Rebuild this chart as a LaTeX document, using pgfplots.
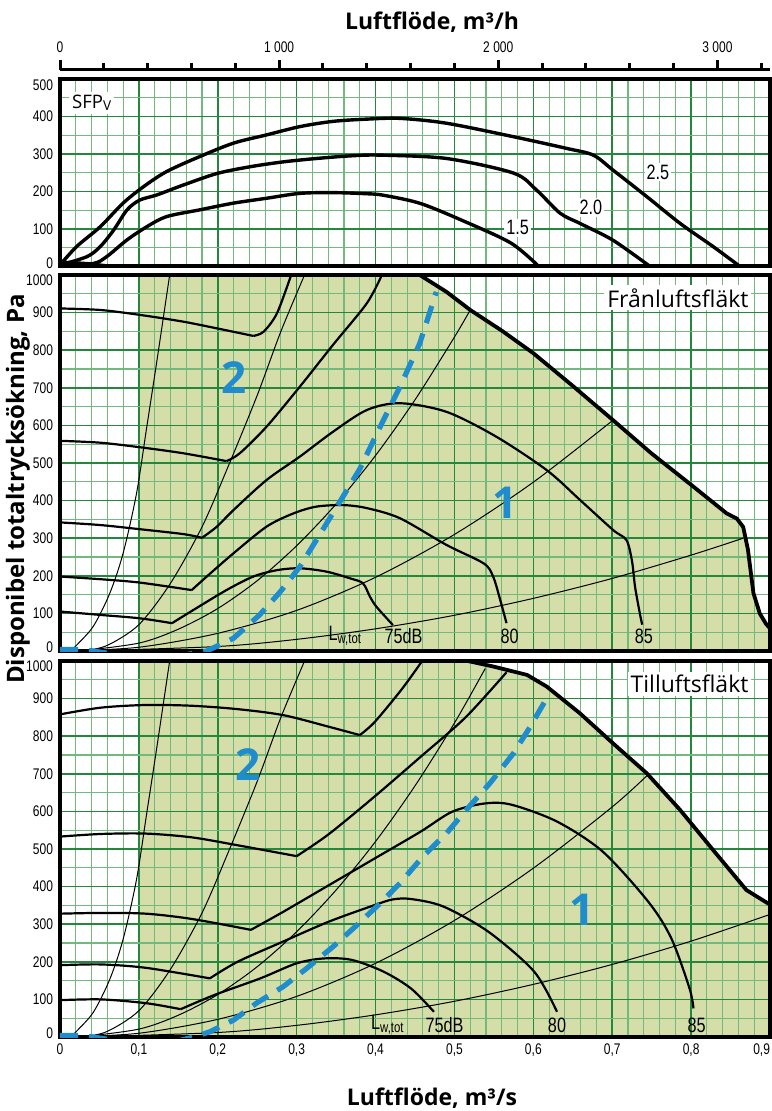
\documentclass[border=0pt]{standalone}
\usepackage{pgfplots}
\pgfplotsset{compat=1.18}
\usepackage{fontspec}
\setmainfont{Open Sans}
\newfontfamily\tickf[FakeStretch=0.78]{Liberation Sans}
\newcommand\tickfont{\tickf\fontsize{7.7}{8}\selectfont}
\newcommand\curvefont{\tickf\fontsize{10.4}{11}\selectfont}

\definecolor{gmaj}{RGB}{35,135,60}
\definecolor{gmin}{RGB}{115,185,125}
\definecolor{fillg}{RGB}{213,222,168}
\definecolor{blu}{RGB}{30,140,205}

\pgfplotsset{
  geom/.style={scale only axis, width=355pt, xmin=0, xmax=0.9, ymin=0},
  panel/.style={
    geom,
    xtick={0,0.1,0.2,0.3,0.4,0.5,0.6,0.7,0.8,0.9},
    minor x tick num=4, minor y tick num=1,
    grid=both,
    major grid style={draw=gmaj, line width=0.8pt},
    minor grid style={draw=gmin, line width=0.55pt},
    major tick length=0pt, minor tick length=0pt,
    axis line style={line width=2pt},
    xticklabels={},
    ticklabel style={font=\tickfont},
  },
  kpa/.style={ytick={0,100,200,300,400,500,600,700,800,900,1000},
    yticklabels={\raisebox{2pt}[5.6pt][0pt]{0},100,200,300,400,500,600,700,800,900,\raisebox{-2.5pt}[5.6pt][0pt]{1000}}},
  fan/.style={black, line width=1.1pt, smooth, tension=0.5},
  thin/.style={black, line width=0.5pt, smooth, tension=0.5},
  env/.style={black, line width=1.9pt, line join=round},
  sfp/.style={black, line width=1.7pt, smooth, tension=0.5},
  bdash/.style={blu, line width=2.6pt, dash pattern=on 9pt off 5.5pt},
}

\begin{document}
\begin{tikzpicture}

% luftflöde m3/h (top scale)
\begin{axis}[at={(30pt,-35pt)}, anchor=north west, scale only axis,
  width=355pt, height=10pt, xmin=0, xmax=3240, ymin=0, ymax=1,
  axis x line*=top, hide y axis,
  axis line style={line width=1.5pt},
  tick align=outside, major tick length=3.5pt,
  x tick style={line width=1.5pt, black},
  xtick={200,400,600,800,1200,1400,1600,1800,2200,2400,2600,2800,3200},
  xticklabels={},
  extra x ticks={0,1000,2000,3000},
  extra x tick labels={0,{1 000},{2 000},{3 000}},
  extra x tick style={major tick length=5pt},
  ticklabel style={font=\tickfont},
]
\addplot[draw=none] coordinates {(0,0) (3240,1)};
\end{axis}

% SFPv panel
\begin{axis}[panel, at={(30pt,-133.25pt)}, height=93.75pt, ymax=500,
  ytick={0,100,200,300,400,500},
  yticklabels={\raisebox{2pt}[5.6pt][0pt]{0},100,200,300,400,\raisebox{-3pt}[5.6pt][0pt]{500}}]
\addplot[sfp] coordinates {(0,4) (0.021,53) (0.051,106) (0.080,169) (0.106,213) (0.135,253) (0.177,293) (0.220,329) (0.262,351) (0.304,373) (0.346,387) (0.389,393) (0.431,395) (0.49,382) (0.575,346) (0.642,315) (0.676,297) (0.701,257) (0.744,186) (0.786,115) (0.828,53) (0.862,0)};
\addplot[sfp] coordinates {(0,4) (0.034,26) (0.051,53) (0.068,97) (0.085,151) (0.101,177) (0.123,191) (0.156,217) (0.199,248) (0.241,266) (0.283,279) (0.325,288) (0.368,295) (0.406,297) (0.49,288) (0.575,249) (0.604,204) (0.634,142) (0.659,115) (0.701,70) (0.748,0)};
\addplot[sfp] coordinates {(0,4) (0.042,8) (0.059,26) (0.085,71) (0.110,106) (0.135,133) (0.177,151) (0.220,169) (0.262,182) (0.304,195) (0.346,197) (0.389,194) (0.410,190) (0.457,168) (0.514,119) (0.572,62) (0.607,0)};
\addplot[sfp, line width=1.2pt] coordinates {(0,13) (0.034,9) (0.063,2) (0.072,0)};
\node[anchor=west, fill=white, inner sep=1.5pt, font=\fontsize{9.3}{10}\selectfont] at (axis cs:0.011,436) {SFP\raisebox{-1.2pt}{\fontsize{6.8}{7}\selectfont V}};
\node[fill=white, inner sep=1pt, font=\curvefont] at (axis cs:0.580,103) {1.5};
\node[fill=white, inner sep=1pt, font=\curvefont] at (axis cs:0.673,158) {2.0};
\node[fill=white, inner sep=1pt, font=\curvefont] at (axis cs:0.758,252) {2.5};
\end{axis}

% Frånluftsfläkt: shaded area underneath
\begin{axis}[geom, at={(30pt,-325.5pt)}, height=188pt, ymax=1000, hide axis]
\addplot[fill=fillg, draw=none] coordinates {(0.1,0) (0.1,1000) (0.456,1000) (0.49,955) (0.52,907) (0.56,852) (0.6,792) (0.65,705) (0.701,614) (0.75,525) (0.803,437) (0.845,366) (0.858,352) (0.866,330) (0.872,270) (0.879,154) (0.887,100) (0.895,72) (0.9,60) (0.9,0)} \closedcycle;
\end{axis}
\begin{axis}[panel, kpa, at={(30pt,-325.5pt)}, height=188pt, ymax=1000]
% system lines
\addplot[thin] coordinates {(0.015,0) (0.019,11) (0.042,65) (0.063,153) (0.080,260) (0.097,419) (0.110,596) (0.123,774) (0.139,1000)};
\addplot[thin] coordinates {(0.03,0) (0.06,15) (0.1,70) (0.14,180) (0.18,330) (0.213,490) (0.25,680) (0.28,850) (0.31,1000)};
\addplot[thin] coordinates {(0.025,0) (0.1,21) (0.15,58) (0.2,113) (0.25,187) (0.3,280) (0.35,391) (0.4,520) (0.45,668) (0.5,835) (0.52,907)};
\addplot[thin] coordinates {(0.01,0) (0.1,10) (0.2,47) (0.3,108) (0.4,196) (0.5,310) (0.6,449) (0.701,614)};
\addplot[thin] coordinates {(0.03,0) (0.2,12) (0.3,31) (0.4,59) (0.5,95) (0.6,140) (0.7,193) (0.8,255) (0.866,300)};
% fan curves
\addplot[fan] coordinates {(0,911) (0.051,907) (0.101,894) (0.156,876) (0.199,858) (0.245,838)};
\addplot[fan] coordinates {(0.245,838) (0.258,849) (0.275,898) (0.293,1000)};
\addplot[fan] coordinates {(0,559) (0.051,554) (0.101,542) (0.156,526) (0.211,505)};
\addplot[fan] coordinates {(0.211,505) (0.228,526) (0.262,597) (0.304,703) (0.346,814) (0.389,925) (0.408,1000)};
\addplot[fan] coordinates {(0,342) (0.051,335) (0.101,324) (0.156,311) (0.180,301)};
\addplot[fan] coordinates {(0.180,301) (0.199,331) (0.220,375) (0.262,455) (0.304,517) (0.346,583) (0.389,641) (0.431,659) (0.490,636) (0.553,570) (0.617,481) (0.659,402) (0.701,322) (0.718,295) (0.725,240) (0.729,170) (0.735,100) (0.738,70)};
\addplot[fan] coordinates {(0,198) (0.051,191) (0.101,182) (0.167,162)};
\addplot[fan] coordinates {(0.167,162) (0.186,198) (0.220,260) (0.262,331) (0.296,366) (0.325,384) (0.359,388) (0.389,380) (0.431,353) (0.490,282) (0.537,233) (0.549,198) (0.558,136) (0.566,74)};
\addplot[fan] coordinates {(0,105) (0.051,96) (0.101,87) (0.142,74)};
\addplot[fan] coordinates {(0.142,74) (0.169,109) (0.211,162) (0.245,198) (0.275,215) (0.304,220) (0.338,211) (0.368,193) (0.384,180) (0.393,144) (0.401,118) (0.422,69)};
% envelope
\addplot[env] coordinates {(0.456,1000) (0.49,955) (0.52,907) (0.56,852) (0.6,792) (0.65,705) (0.701,614) (0.75,525) (0.803,437) (0.845,366) (0.858,352) (0.866,330) (0.872,270) (0.879,154) (0.887,100) (0.895,72) (0.9,60)};
% boundary 1/2
\addplot[bdash] coordinates {(0,4) (0.03,4) (0.06,-6) (0.12,-25) (0.186,0) (0.22,34) (0.253,96) (0.279,157) (0.304,224) (0.325,295) (0.351,384) (0.38,484) (0.406,597) (0.431,703) (0.456,818) (0.477,955)};
\node[anchor=east, fill=white, inner sep=1.5pt, font=\fontsize{11.5}{12}\selectfont] at (axis cs:0.877,939) {Frånluftsfläkt};
\node[text=blu, font=\bfseries\fontsize{22}{24}\selectfont] at (axis cs:0.221,727) {2};
\node[text=blu, font=\bfseries\fontsize{22}{24}\selectfont] at (axis cs:0.564,395) {1};
\node[anchor=west, inner sep=0pt, font=\curvefont] at (axis cs:0.340,40) {L\textsubscript{w,tot}};
\node[anchor=west, inner sep=0pt, font=\curvefont] at (axis cs:0.411,40) {75dB};
\node[inner sep=0pt, font=\curvefont] at (axis cs:0.570,40) {80};
\node[inner sep=0pt, font=\curvefont] at (axis cs:0.740,40) {85};
\end{axis}

% Tilluftsfläkt: shaded area underneath
\begin{axis}[geom, at={(30pt,-518.5pt)}, height=188pt, ymax=1000, hide axis]
\addplot[fill=fillg, draw=none] coordinates {(0.1,0) (0.1,1000) (0.517,1000) (0.55,985) (0.592,963) (0.617,932) (0.659,861) (0.701,781) (0.744,701) (0.786,604) (0.828,497) (0.870,391) (0.9,352) (0.9,0)} \closedcycle;
\end{axis}
\begin{axis}[panel, kpa, at={(30pt,-518.5pt)}, height=188pt, ymax=1000,
  xticklabels={0,{0,1},{0,2},{0,3},{0,4},{0,5},{0,6},{0,7},{0,8},{\makebox[0pt][r]{0,9}}}]
\addplot[thin] coordinates {(0.015,0) (0.019,11) (0.042,65) (0.063,153) (0.080,260) (0.097,419) (0.110,596) (0.123,774) (0.139,1000)};
\addplot[thin] coordinates {(0.03,0) (0.06,15) (0.1,70) (0.14,180) (0.18,330) (0.213,490) (0.25,680) (0.28,850) (0.31,1000)};
\addplot[thin] coordinates {(0.025,0) (0.1,21) (0.15,58) (0.2,113) (0.25,187) (0.3,280) (0.35,391) (0.4,520) (0.45,668) (0.5,835) (0.539,980)};
\addplot[thin] coordinates {(0.01,0) (0.1,10) (0.2,47) (0.3,108) (0.4,196) (0.5,310) (0.6,449) (0.7,612) (0.746,699)};
\addplot[thin] coordinates {(0.03,0) (0.2,12) (0.3,31) (0.4,59) (0.5,95) (0.6,140) (0.7,193) (0.8,255) (0.9,326)};
\addplot[fan] coordinates {(0,858) (0.052,876) (0.109,883) (0.167,881) (0.225,872) (0.283,856) (0.341,825) (0.380,803)};
\addplot[fan] coordinates {(0.380,803) (0.399,838) (0.434,927) (0.459,1000)};
\addplot[fan] coordinates {(0,533) (0.052,540) (0.109,541) (0.167,531) (0.225,510) (0.300,481)};
\addplot[fan] coordinates {(0.300,481) (0.341,540) (0.399,640) (0.457,745) (0.514,850) (0.566,970)};
\addplot[fan] coordinates {(0,328) (0.052,330) (0.109,328) (0.167,314) (0.242,285)};
\addplot[fan] coordinates {(0.242,285) (0.283,333) (0.341,404) (0.399,475) (0.457,546) (0.497,599) (0.538,621) (0.572,618) (0.630,573) (0.688,493) (0.746,359) (0.775,262) (0.798,129) (0.803,76)};
\addplot[fan] coordinates {(0,191) (0.052,193) (0.109,184) (0.190,156)};
\addplot[fan] coordinates {(0.190,156) (0.225,200) (0.283,254) (0.341,307) (0.399,351) (0.422,366) (0.445,367) (0.486,347) (0.543,280) (0.601,174) (0.630,67)};
\addplot[fan] coordinates {(0,98) (0.052,100) (0.109,90) (0.153,74)};
\addplot[fan] coordinates {(0.153,74) (0.196,112) (0.254,156) (0.300,196) (0.335,209) (0.370,205) (0.410,174) (0.445,129) (0.474,67)};
\addplot[env] coordinates {(0.517,1000) (0.55,985) (0.592,963) (0.617,932) (0.659,861) (0.701,781) (0.744,701) (0.786,604) (0.828,497) (0.870,391) (0.9,352)};
\addplot[bdash] coordinates {(0,4) (0.03,4) (0.06,-6) (0.12,-25) (0.17,0) (0.19,14) (0.22,45) (0.249,90) (0.283,134) (0.313,183) (0.346,240) (0.375,295) (0.406,356) (0.431,409) (0.46,480) (0.49,542) (0.515,604) (0.545,675) (0.575,755) (0.596,825) (0.62,912)};
\node[anchor=east, fill=white, inner sep=1.5pt, font=\fontsize{11.5}{12}\selectfont] at (axis cs:0.877,939) {Tilluftsfläkt};
\node[text=blu, font=\bfseries\fontsize{22}{24}\selectfont] at (axis cs:0.238,725) {2};
\node[text=blu, font=\bfseries\fontsize{22}{24}\selectfont] at (axis cs:0.662,338) {1};
\node[anchor=west, inner sep=0pt, font=\curvefont] at (axis cs:0.394,32) {L\textsubscript{w,tot}};
\node[anchor=west, inner sep=0pt, font=\curvefont] at (axis cs:0.463,32) {75dB};
\node[inner sep=0pt, font=\curvefont] at (axis cs:0.630,32) {80};
\node[inner sep=0pt, font=\curvefont] at (axis cs:0.807,32) {85};
\end{axis}

\node[rotate=90, font=\bfseries\fontsize{12}{14}\selectfont] at (9pt,-244.5pt) {Disponibel totaltrycksökning, Pa};
\node[font=\bfseries\fontsize{11.5}{13}\selectfont] at (216pt,-11pt) {Luftflöde, m³/h};
\node[font=\bfseries\fontsize{11.5}{13}\selectfont] at (216pt,-549pt) {Luftflöde, m³/s};
\pgfresetboundingbox
\useasboundingbox (0,0) rectangle (385.5pt,-555.5pt);
\end{tikzpicture}
\end{document}
